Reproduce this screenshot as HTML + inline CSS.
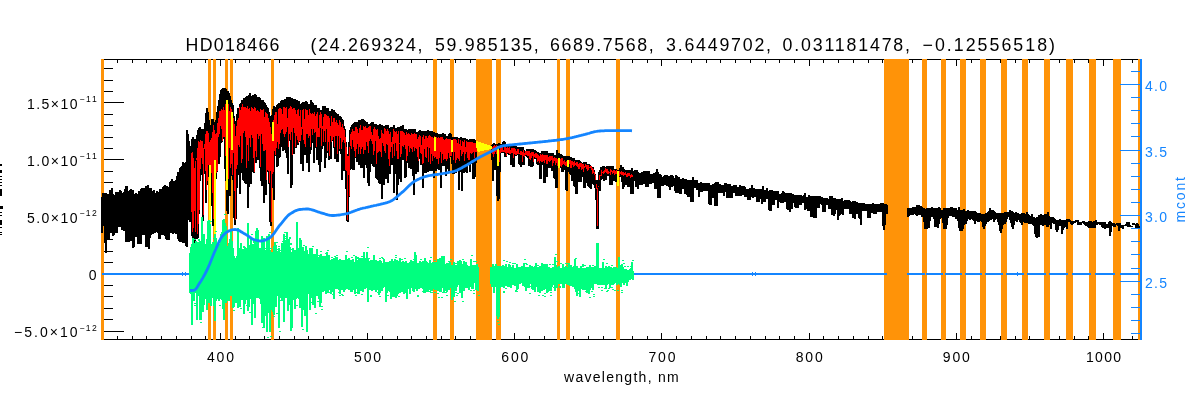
<!DOCTYPE html>
<html><head><meta charset="utf-8"><title>HD018466</title>
<style>
html,body{margin:0;padding:0;background:#fff;}
body{width:1200px;height:400px;overflow:hidden;font-family:"Liberation Sans",sans-serif;}
svg{display:block;}
svg text{font-family:"Liberation Sans",sans-serif;}
</style></head><body>
<svg width="1200" height="400" viewBox="0 0 1200 400">
<defs><filter id="idf" x="0" y="0" width="1200" height="400" filterUnits="userSpaceOnUse" color-interpolation-filters="sRGB"><feOffset dx="0" dy="0"/></filter></defs>
<rect width="1200" height="400" fill="#fff"/>
<path d="M102 59.5H1142M102 339.5H1142M102.5 59V340M102.5 59v4M102.5 340v-4M117.5 59v4M117.5 340v-4M132.5 59v4M132.5 340v-4M146.5 59v4M146.5 340v-4M161.5 59v4M161.5 340v-4M176.5 59v4M176.5 340v-4M191.5 59v4M191.5 340v-4M205.5 59v4M205.5 340v-4M220.5 59v7M220.5 340v-7M235.5 59v4M235.5 340v-4M249.5 59v4M249.5 340v-4M264.5 59v4M264.5 340v-4M279.5 59v4M279.5 340v-4M294.5 59v4M294.5 340v-4M308.5 59v4M308.5 340v-4M323.5 59v4M323.5 340v-4M338.5 59v4M338.5 340v-4M352.5 59v4M352.5 340v-4M367.5 59v7M367.5 340v-7M382.5 59v4M382.5 340v-4M397.5 59v4M397.5 340v-4M411.5 59v4M411.5 340v-4M426.5 59v4M426.5 340v-4M441.5 59v4M441.5 340v-4M455.5 59v4M455.5 340v-4M470.5 59v4M470.5 340v-4M485.5 59v4M485.5 340v-4M500.5 59v4M500.5 340v-4M514.5 59v7M514.5 340v-7M529.5 59v4M529.5 340v-4M544.5 59v4M544.5 340v-4M558.5 59v4M558.5 340v-4M573.5 59v4M573.5 340v-4M588.5 59v4M588.5 340v-4M603.5 59v4M603.5 340v-4M617.5 59v4M617.5 340v-4M632.5 59v4M632.5 340v-4M647.5 59v4M647.5 340v-4M661.5 59v7M661.5 340v-7M676.5 59v4M676.5 340v-4M691.5 59v4M691.5 340v-4M706.5 59v4M706.5 340v-4M720.5 59v4M720.5 340v-4M735.5 59v4M735.5 340v-4M750.5 59v4M750.5 340v-4M765.5 59v4M765.5 340v-4M779.5 59v4M779.5 340v-4M794.5 59v4M794.5 340v-4M809.5 59v7M809.5 340v-7M823.5 59v4M823.5 340v-4M838.5 59v4M838.5 340v-4M853.5 59v4M853.5 340v-4M868.5 59v4M868.5 340v-4M882.5 59v4M882.5 340v-4M897.5 59v4M897.5 340v-4M912.5 59v4M912.5 340v-4M926.5 59v4M926.5 340v-4M941.5 59v4M941.5 340v-4M956.5 59v7M956.5 340v-7M971.5 59v4M971.5 340v-4M985.5 59v4M985.5 340v-4M1000.5 59v4M1000.5 340v-4M1015.5 59v4M1015.5 340v-4M1029.5 59v4M1029.5 340v-4M1044.5 59v4M1044.5 340v-4M1059.5 59v4M1059.5 340v-4M1074.5 59v4M1074.5 340v-4M1088.5 59v4M1088.5 340v-4M1103.5 59v7M1103.5 340v-7M1118.5 59v4M1118.5 340v-4M1132.5 59v4M1132.5 340v-4M102 331.5h22M102 319.5h11M102 308.5h11M102 296.5h11M102 285.5h11M102 274.5h22M102 262.5h11M102 251.5h11M102 239.5h11M102 228.5h11M102 217.5h22M102 205.5h11M102 194.5h11M102 182.5h11M102 171.5h11M102 159.5h22M102 148.5h11M102 137.5h11M102 125.5h11M102 114.5h11M102 102.5h22M102 91.5h11M102 80.5h11M102 68.5h11" stroke="#000" stroke-width="1" fill="none" shape-rendering="crispEdges"/>
<path d="M101 59H104V340H101ZM208 59H211V340H208ZM213 59H216V340H213ZM225 59H228V340H225ZM230 59H233V340H230ZM271 59H274V340H271ZM433 59H437V340H433ZM450 59H454V340H450ZM476 59H492V340H476ZM496 59H501V340H496ZM557 59H560V340H557ZM566 59H570V340H566ZM616 59H620V340H616ZM884 59H909V340H884ZM922 59H927V340H922ZM941 59H946V340H941ZM960 59H966V340H960ZM980 59H986V340H980ZM1001 59H1007V340H1001ZM1022 59H1028V340H1022ZM1044 59H1050V340H1044ZM1066 59H1073V340H1066ZM1089 59H1096V340H1089ZM1113 59H1121V340H1113ZM1138 59H1140V340H1138Z" fill="#FF9308" shape-rendering="crispEdges"/>
<path d="M102 197V233M103 193V226M104 195V226M105 193V243M106 193V253M107 196V240M108 194V240M109 194V240M110 190V233M111 190V233M112 188V233M113 194V236M114 195V235M115 195V233M116 192V233M117 193V233M118 192V227M119 193V227M120 190V227M121 191V227M122 193V230M123 194V230M124 192V231M125 189V230M126 186V242M127 186V242M128 191V242M129 192V242M130 190V236M131 189V241M132 190V241M133 190V248M134 194V247M135 194V237M136 193V237M137 194V237M138 194V244M139 191V244M140 192V244M141 189V244M142 188V234M143 189V235M144 188V235M145 189V234M146 186V247M147 188V247M148 185V247M149 189V249M150 188V238M151 188V235M152 192V234M153 191V234M154 190V233M155 193V233M156 195V232M157 191V232M158 192V233M159 192V239M160 189V239M161 190V233M162 189V235M163 187V235M164 186V235M165 185V236M166 186V239M167 186V240M168 187V240M169 187V240M170 182V233M171 181V233M172 179V233M173 183V234M174 181V233M175 183V233M176 180V234M177 176V234M178 172V239M179 173V241M180 168V242M181 167V240M182 166V242M183 162V243M184 163V243M185 165V243M186 162V246M187 161V247" stroke="#000" stroke-width="2" fill="none" shape-rendering="crispEdges"/>
<path d="M187 130V220M188 134V220M189 141V166M190 146V222M191 146V217M192 139V236M193 137V240M194 139V219M195 141V243M196 139V165M197 135V239M198 130V238M199 128V214M200 127V181M201 129V165M202 129V175M203 130V221M204 129V163M205 123V174M206 113V203M207 108V185M208 112V173M209 120V177M210 125V220M211 125V183M212 119V206M213 119V226M214 122V194M215 125V168M216 120V179M217 112V172M218 106V151M219 100V164M220 94V157M221 90V143M222 89V142M223 88V138M224 89V139M225 88V169M226 89V181M227 91V211M228 91V214M229 93V149M230 96V196M231 100V173M232 103V176M233 105V180M234 116V218M235 126V225M236 121V219M237 114V188M238 108V174M239 108V175M240 104V194M241 103V172M242 100V173M243 101V180M244 98V181M245 99V183M246 97V184M247 96V175M248 97V208M249 95V187M250 93V148M251 96V184M252 96V139M253 95V172M254 95V173M255 94V162M256 95V163M257 97V160M258 97V160M259 97V142M260 98V168M261 100V181M262 101V186M263 100V182M264 102V203M265 103V192M266 105V195M267 107V171M268 108V172M269 112V184M270 116V222M271 123V226M272 115V175M273 109V188M274 106V200M275 107V156M276 109V149M277 105V167M278 104V166M279 103V158M280 103V157M281 101V147M282 100V130M283 101V151M284 100V150M285 99V135M286 99V153M287 97V158M288 97V174M289 98V141M290 97V141M291 98V188M292 98V185M293 99V154M294 99V154M295 99V148M296 101V148M297 100V145M298 103V145M299 101V142M300 104V142M301 104V164M302 103V160M303 102V171M304 103V145M305 102V155M306 101V155M307 102V163M308 104V149M309 104V172M310 106V154M311 100V150M312 102V136M313 103V143M314 107V163M315 105V148M316 105V148M317 109V160M318 108V160M319 108V165M320 111V172M321 110V162M322 112V149M323 106V143M324 108V146M325 106V168M326 108V158M327 109V153M328 108V143M329 112V160M330 111V143M331 112V159M332 109V141M333 111V138M334 110V148M335 112V159M336 113V137M337 116V162M338 114V162M339 117V150M340 116V151M341 117V154M342 119V180M343 120V167M344 126V171M345 129V171M346 142V189M347 155V221M348 154V222M349 142V197M350 130V170M351 127V169M352 125V167M353 124V170M354 123V170M355 122V158M356 123V158M357 122V162M358 123V162M359 120V165M360 120V165M361 120V168M362 119V168M363 119V166M364 120V178M365 121V164M366 122V165M367 122V168M368 124V183M369 124V186M370 124V172M371 123V163M372 122V164M373 122V166M374 124V167M375 124V160M376 124V178M377 125V179M378 125V180M379 126V183M380 124V184M381 125V175M382 125V199M383 126V184M384 126V185M385 126V179M386 125V179M387 125V168M388 125V183M389 128V174M390 128V174M391 127V157M392 127V165M393 128V164M394 125V193M395 128V165M396 128V174M397 128V200M398 127V185M399 127V179M400 127V179M401 126V182M402 126V158M403 125V160M404 129V159M405 129V178M406 129V177M407 130V163M408 130V162M409 129V168M410 130V167M411 129V169M412 129V163M413 129V176M414 129V195M415 129V174M416 132V174M417 133V158M418 132V172M419 131V156M420 130V159M421 131V165M422 131V165M423 131V188M424 131V164M425 131V173M426 131V173M427 132V172M428 130V172M429 131V171M430 131V171M431 132V171M432 131V171M433 132V161M434 132V178M435 133V171M436 133V171M437 133V169M438 134V169M439 134V170M440 134V170M441 134V188M442 135V162M443 133V166M444 134V166M445 134V160M446 136V176M447 136V169M448 136V169M449 134V172M450 133V157M451 134V157M452 137V164M453 137V174M454 138V174M455 137V173M456 137V173M457 137V171M458 138V171M459 138V190M460 138V172M461 137V166M462 138V191M463 138V173M464 139V173M465 138V172M466 140V172M467 139V173M468 140V163M469 140V161M470 139V172M471 139V164M472 139V162M473 139V179M474 139V179M475 140V177M476 141V163M492 145V160M493 144V181M494 143V164M495 144V170M496 144V170M497 144V196M498 144V201M499 143V199M500 144V172M501 144V153M502 145V153M503 142V153M504 141V153M505 142V157M506 145V157M507 145V154M508 145V154M509 146V155M510 146V155M511 146V165M512 145V165M513 146V167M514 145V167M515 147V156M516 146V156M517 147V155M518 147V155M519 147V164M520 148V165M521 147V167M522 147V163M523 147V165M524 150V165M525 151V156M526 151V156M527 149V157M528 149V158M529 149V166M530 149V166M531 150V167M532 149V167M533 149V166M534 150V159M535 150V159M536 151V159M537 152V164M538 152V165M539 153V164M540 153V179M541 153V179M542 151V165M543 151V165M544 151V183M545 151V183M546 151V177M547 151V177M548 154V168M549 153V168M550 153V167M551 153V168M552 153V171M553 153V171M554 155V178M555 155V179M556 155V188M557 150V188M558 154V168M559 153V168M560 154V168M561 154V168M562 155V172M563 156V172M564 156V170M565 156V170M566 157V190M567 156V191M568 156V171M569 156V172M570 158V174M571 157V175M572 158V181M573 158V181M574 158V186M575 161V187M576 160V194M577 162V194M578 160V182M579 160V182M580 161V182M581 162V182M582 163V176M583 163V177M584 162V188M585 162V188M586 162V183M587 164V183M588 164V186M589 164V187M590 165V188M591 167V189M592 167V183M593 167V184M594 170V185M595 174V188M596 180V200M597 185V229M598 180V229M599 172V187M600 170V191M601 167V180M602 167V179M603 166V179M604 166V181M605 167V180M606 167V180M607 166V176M608 166V176M609 166V176M610 166V185M611 166V185M612 167V185M613 166V181M614 169V181M615 169V181M616 169V182M617 170V182M618 171V182M619 170V177M620 168V177M621 165V177M622 169V182M623 167V189M624 169V187M625 170V185M626 170V185M627 171V185M628 170V187M629 170V187M630 170V187M631 171V194M632 168V194M633 171V194M634 171V181M635 170V181M636 171V187M637 170V185M638 172V189M639 173V185M640 173V185M641 173V185M642 172V185M643 172V183M644 171V184M645 171V184M646 172V187M647 171V187M648 172V187M649 171V184M650 174V184M651 174V184M652 175V183M653 174V183M654 173V183M655 173V189M656 172V189M657 169V189M658 172V198M659 174V198M660 174V198M661 175V185M662 177V186M663 177V186M664 176V185M665 175V185M666 175V185M667 175V186M668 176V186M669 177V187M670 176V190M671 175V187M672 175V187M673 176V186M674 178V186M675 178V191M676 175V193M677 176V193M678 177V193M679 177V193M680 179V194M681 179V194M682 179V189M683 178V189M684 179V189M685 179V194M686 179V194M687 180V195M688 180V197M689 180V197M690 180V189M691 180V202M692 180V202M693 177V202M694 180V188M695 180V188M696 180V188M697 180V190M698 183V190M699 183V197M700 183V191M701 182V192M702 183V192M703 183V190M704 183V191M705 183V191M706 183V191M707 183V191M708 183V191M709 183V204M710 185V205M711 185V205M712 185V198M713 184V198M714 184V198M715 183V206M716 182V206M717 183V206M718 182V193M719 184V193M720 184V193M721 185V193M722 185V193M723 185V193M724 185V196M725 183V192M726 183V192M727 184V198M728 184V198M729 184V198M730 184V197M731 186V198M732 186V198M733 186V193M734 185V193M735 185V193M736 185V196M737 187V196M738 188V196M739 187V196M740 185V196M741 186V196M742 186V195M743 186V195M744 186V195M745 187V197M746 189V197M747 189V197M748 189V200M749 189V200M750 188V200M751 189V197M752 185V197M753 188V198M754 188V196M755 189V197M756 189V197M757 190V202M758 189V202M759 189V202M760 189V199M761 189V199M762 189V204M763 186V202M764 190V202M765 190V202M766 191V198M767 188V199M768 191V199M769 191V210M770 190V211M771 190V211M772 190V204M773 191V205M774 192V205M775 191V200M776 191V200M777 191V200M778 191V208M779 194V202M780 194V202M781 194V203M782 193V203M783 191V203M784 192V201M785 193V202M786 193V202M787 193V209M788 193V210M789 194V210M790 193V212M791 193V209M792 194V209M793 194V203M794 195V203M795 195V207M796 195V208M797 195V208M798 195V208M799 195V204M800 196V205M801 195V205M802 196V203M803 196V203M804 195V203M805 193V210M806 197V209M807 197V205M808 198V211M809 195V211M810 196V211M811 196V217M812 196V217M813 196V217M814 196V218M815 196V218M816 196V218M817 196V208M818 196V208M819 196V208M820 196V204M821 197V204M822 197V205M823 198V212M824 198V212M825 198V212M826 198V205M827 198V205M828 199V205M829 199V209M830 196V209M831 196V209M832 196V215M833 198V215M834 199V216M835 198V214M836 199V209M837 199V210M838 199V220M839 200V216M840 199V215M841 200V214M842 198V214M843 201V215M844 202V208M845 200V209M846 201V209M847 200V209M848 200V209M849 200V209M850 201V214M851 202V214M852 203V214M853 201V218M854 202V218M855 201V219M856 202V214M857 202V214M858 203V214M859 203V218M860 203V219M861 203V225M862 203V211M863 203V211M864 203V211M865 204V211M866 205V211M867 204V211M868 204V218M869 204V218M870 204V218M871 204V213M872 204V213M873 203V213M874 204V214M875 204V214M876 204V214M877 205V212M878 204V212M879 204V212M880 204V212M881 203V212M882 203V212M883 203V226M884 204V230M885 204V225M886 204V214M887 205V214M908 208V217M909 208V216M910 208V215M911 208V215M912 208V215M913 207V215M914 207V214M915 207V213M916 207V215M917 205V216M918 205V215M919 205V215M920 206V214M921 206V215M922 207V217M923 208V217M924 208V222M925 209V229M926 210V229M927 208V229M928 208V228M929 208V228M930 208V221M931 210V216M932 207V217M933 208V217M934 208V219M935 208V227M936 208V224M937 209V227M938 208V228M939 207V224M940 208V219M941 210V218M942 211V218M943 210V223M944 208V229M945 209V229M946 208V229M947 208V225M948 209V218M949 208V216M950 208V216M951 207V215M952 207V216M953 209V217M954 208V217M955 208V217M956 208V219M957 210V219M958 210V221M959 207V228M960 210V231M961 210V231M962 210V231M963 211V229M964 209V225M965 211V224M966 211V224M967 211V221M968 210V219M969 211V219M970 211V220M971 212V219M972 211V219M973 212V220M974 211V221M975 211V224M976 212V220M977 213V221M978 213V222M979 213V222M980 213V221M981 214V221M982 214V222M983 214V227M984 215V229M985 214V226M986 213V224M987 213V222M988 212V222M989 211V221M990 208V220M991 211V220M992 210V218M993 210V219M994 211V222M995 212V220M996 213V219M997 213V219M998 213V222M999 213V225M1000 213V231M1001 214V233M1002 213V229M1003 213V225M1004 213V224M1005 212V224M1006 212V222M1007 213V219M1008 212V217M1009 212V217M1010 210V220M1011 211V223M1012 211V227M1013 212V229M1014 213V225M1015 213V221M1016 212V221M1017 213V222M1018 213V220M1019 214V220M1020 214V222M1021 215V223M1022 213V225M1023 213V221M1024 213V222M1025 214V223M1026 214V223M1027 212V223M1028 214V223M1029 215V224M1030 216V224M1031 216V224M1032 214V224M1033 218V225M1034 217V226M1035 218V234M1036 218V237M1037 217V238M1038 217V237M1039 215V237M1040 215V225M1041 214V225M1042 215V225M1043 215V226M1044 215V225M1045 214V224M1046 214V225M1047 214V227M1048 212V227M1049 216V225M1050 217V223M1051 217V229M1052 217V223M1053 217V223M1054 218V224M1055 219V224M1056 220V230M1057 220V232M1058 221V230M1059 220V226M1060 219V226M1061 220V226M1062 221V234M1063 220V230M1064 220V228M1065 220V225M1066 221V227M1067 219V229M1068 219V222M1069 219V222M1070 220V222M1071 221V224M1072 221V225M1073 221V224M1074 221V223M1075 222V223M1076 220V222M1077 220V222M1078 220V225M1079 222V225M1080 222V225M1081 222V225M1082 222V223M1083 221V223M1084 221V224M1085 222V225M1086 222V226M1087 222V226M1088 222V227M1089 221V228M1090 222V228M1091 221V228M1092 222V228M1093 222V228M1094 221V228M1095 221V228M1096 220V225M1097 223V225M1098 222V223M1099 222V224M1100 222V225M1101 222V225M1102 222V227M1103 222V228M1104 222V228M1105 222V229M1106 224V228M1107 224V228M1108 224V228M1109 222V227M1110 221V236M1111 222V232M1112 223V226M1113 223V226M1114 223V227M1115 224V227M1116 224V225M1117 223V225M1118 223V226M1119 223V231M1120 223V228M1121 225V228M1122 225V228M1123 225V229M1124 225V226M1125 225V226M1126 224V226M1127 222V226M1128 222V227M1129 222V227M1130 225V226M1131 226V227M1132 226V227M1133 223V225M1134 223V225M1135 224V225M1136 224V228M1137 223V228M1138 224V228M1139 226V229M1140 226V228" stroke="#000" stroke-width="2" fill="none" shape-rendering="crispEdges"/>
<path d="M191.5 153V212M192.5 152V232M193.5 158V228M194.5 168V211M195.5 161V232M196.5 158V160M197.5 148V234M198.5 141V224M199.5 142V210M200.5 140V169M201.5 141V158M202.5 141V164M203.5 148V215M204.5 144V149M205.5 134V171M206.5 131V190M207.5 131V181M208.5 133V165M209.5 142V166M210.5 140V215M211.5 138V173M212.5 132V193M213.5 125V219M214.5 130V187M215.5 134V164M216.5 133V173M217.5 123V171M218.5 118V137M219.5 111V134M220.5 111V126M221.5 109V129M222.5 110V141M223.5 107V137M224.5 110V137M225.5 104V156M226.5 103V180M227.5 106V160M228.5 104V179M229.5 111V148M230.5 107V168M231.5 109V164M232.5 115V175M233.5 118V153M234.5 124V191M235.5 136V220M236.5 126V169M237.5 120V165M238.5 118V145M239.5 107V147M240.5 110V136M241.5 107V163M242.5 104V159M243.5 107V133M244.5 107V131M245.5 107V137M246.5 108V168M247.5 106V145M248.5 109V161M249.5 108V138M250.5 111V147M251.5 107V135M252.5 108V138M253.5 109V158M254.5 107V172M255.5 108V151M256.5 111V157M257.5 110V134M258.5 111V139M259.5 112V136M260.5 109V167M261.5 110V134M262.5 110V144M263.5 109V151M264.5 117V151M265.5 112V150M266.5 113V180M267.5 114V170M268.5 118V171M269.5 122V183M270.5 127V171M271.5 134V222M272.5 125V174M273.5 120V172M274.5 115V151M275.5 112V155M276.5 112V148M277.5 124V142M278.5 109V149M279.5 108V144M280.5 108V133M281.5 109V130M282.5 114V129M283.5 107V134M284.5 107V137M285.5 108V134M286.5 107V132M287.5 118V127M288.5 109V147M289.5 108V134M290.5 106V140M291.5 107V132M292.5 109V155M293.5 108V128M294.5 108V133M295.5 110V147M296.5 114V136M297.5 110V140M298.5 109V143M299.5 116V141M300.5 110V141M301.5 127V135M302.5 110V129M303.5 109V140M304.5 119V144M305.5 109V147M306.5 110V134M307.5 110V134M308.5 115V138M309.5 109V136M310.5 113V147M311.5 114V129M312.5 113V135M313.5 114V129M314.5 112V133M315.5 116V132M316.5 114V147M317.5 112V137M318.5 128V137M319.5 115V137M320.5 112V128M321.5 114V146M322.5 126V129M323.5 117V142M324.5 114V131M325.5 114V142M326.5 115V129M327.5 116V151M328.5 116V142M329.5 118V156M330.5 126V136M331.5 116V142M332.5 122V140M333.5 118V137M334.5 118V147M335.5 122V136M336.5 120V136M337.5 123V154M338.5 125V136M339.5 120V149M340.5 122V138M341.5 127V149M342.5 124V142M343.5 128V140M344.5 130V143M345.5 137V170M346.5 147V171M347.5 156V220M348.5 156V175M349.5 147V196M350.5 134V146M351.5 132V149M352.5 129V140M353.5 131V147M354.5 131V151M355.5 127V157M356.5 127V149M357.5 129V144M358.5 133V154M359.5 128V147M360.5 125V154M361.5 130V149M362.5 130V147M363.5 126V154M364.5 127V150M365.5 126V150M366.5 128V142M367.5 128V146M368.5 127V153M369.5 126V141M370.5 126V139M371.5 132V141M372.5 135V144M373.5 129V155M374.5 127V151M375.5 129V141M376.5 130V164M377.5 129V153M378.5 136V152M379.5 139V151M380.5 138V152M381.5 130V157M382.5 133V143M383.5 134V146M384.5 128V151M385.5 129V153M386.5 131V144M387.5 129V145M388.5 131V159M389.5 134V166M390.5 132V152M391.5 142V147M392.5 137V158M393.5 129V144M394.5 131V156M395.5 132V143M396.5 131V151M397.5 134V159M398.5 131V159M399.5 143V144M400.5 131V157M401.5 131V154M402.5 131V146M403.5 132V147M404.5 133V145M405.5 135V149M406.5 132V161M407.5 134V156M408.5 133V146M409.5 134V152M410.5 135V148M411.5 133V149M412.5 134V152M413.5 134V147M414.5 133V151M415.5 134V148M416.5 134V149M417.5 139V157M418.5 137V161M419.5 135V147M420.5 136V153M421.5 145V154M422.5 137V164M423.5 135V163M424.5 139V149M425.5 136V157M426.5 136V158M427.5 138V147M428.5 136V162M429.5 135V148M430.5 136V164M431.5 137V154M432.5 137V161M433.5 138V156M434.5 136V158M435.5 137V157M436.5 137V159M437.5 138V159M438.5 137V164M439.5 138V158M440.5 137V152M441.5 137V163M442.5 137V154M443.5 139V160M444.5 140V159M445.5 139V159M446.5 138V161M447.5 139V159M448.5 139V153M449.5 139V158M450.5 139V156M451.5 140V156M452.5 141V152M453.5 139V160M454.5 139V152M455.5 139V163M456.5 140V160M457.5 143V158M458.5 139V159M459.5 144V161M460.5 140V150M461.5 146V156M462.5 141V154M463.5 142V152M464.5 140V161M465.5 147V154M466.5 141V152M467.5 142V158M468.5 142V160M469.5 142V160M470.5 142V153M471.5 142V154M472.5 142V153M473.5 143V152M474.5 143V158M475.5 143V152M476.5 143V152M492.5 147V154M493.5 146V157M494.5 145V154M495.5 146V152M496.5 145V154M497.5 146V155M498.5 148V155M499.5 150V162M500.5 146V153M501.5 146V152M502.5 147V152M503.5 150V152M504.5 146V152M505.5 147V153M506.5 148V156M507.5 147V153M508.5 148V153M509.5 147V154M510.5 150V154M511.5 148V153M512.5 148V153M513.5 148V158M514.5 148V154M515.5 149V155M516.5 151V155M517.5 149V154M518.5 149V154M519.5 153V154M520.5 151V155M521.5 151V155M522.5 152V162M523.5 150V156M524.5 153V157M525.5 151V155M526.5 151V155M527.5 151V156M528.5 151V156M529.5 151V159M530.5 153V160M531.5 152V158M532.5 152V156M533.5 152V162M534.5 154V157M535.5 153V158M536.5 153V158M537.5 154V162M538.5 155V161M539.5 156V163M540.5 154V161M541.5 155V162M542.5 154V162M543.5 155V161M544.5 155V163M545.5 155V160M546.5 155V164M547.5 155V164M548.5 157V161M549.5 156V162M550.5 156V161M551.5 156V160M552.5 156V166M553.5 158V163M554.5 157V161M555.5 158V165M556.5 158V163M557.5 159V166M558.5 161V165M559.5 158V164M560.5 159V166M561.5 158V167M562.5 158V165M563.5 161V164M564.5 160V165M565.5 162V166M566.5 161V166M567.5 163V167M568.5 160V163M569.5 160V164M570.5 160V168M571.5 161V168M572.5 161V165M573.5 162V167M574.5 161V166M575.5 163V165M576.5 162V166M577.5 162V167M578.5 164V169M579.5 163V169M580.5 163V167M581.5 163V170M582.5 164V169M583.5 164V172M584.5 166V168M585.5 164V167M586.5 165V169M587.5 165V171M588.5 165V170M589.5 167V168M590.5 166V168M591.5 166V170M592.5 168V174M593.5 169V173M594.5 172V175M595.5 175V180M596.5 184V189M597.5 188V226M598.5 186V187M599.5 175V180M600.5 175V176M601.5 170V176M602.5 172V173M603.5 171V174M604.5 170V173M605.5 168V172M606.5 169V173M607.5 169V174M608.5 171V174M609.5 172V173M610.5 169V175M611.5 170V172M612.5 171V174M613.5 170V173M614.5 170V175M615.5 171V174M616.5 170V174M617.5 171V176M618.5 173V175M619.5 171V176M620.5 172V174M621.5 171V175M622.5 172V175M623.5 172V176M624.5 173V175M625.5 172V175M626.5 174V177M627.5 173V177M628.5 173V176M629.5 173V176M630.5 175V178M631.5 174V177M632.5 175V177" stroke="#FF0000" stroke-width="1" fill="none" shape-rendering="crispEdges"/>
<path d="M209.5 165V250M214.5 160V250M226.5 100V190M231.5 112V150M272.7 122V141M434.5 137V151M452 140V152M498.3 146V166M558.5 158V168M567.5 160V167M618 171V186" stroke="#FFFF00" stroke-width="2" fill="none" shape-rendering="crispEdges"/>
<path d="M476 141L492 146L492 149L486 150L478 152L476 146Z" fill="#FFFF00" shape-rendering="crispEdges"/>
<path d="M102 274H190M633 274H887M907 274H924.5M926 274H943M945 274H962M965 274H982M985 274H1003M1006 274H1024M1027 274H1046M1049 274H1068M1072 274H1091M1095 274H1115M1120 274H1139" stroke="#1485FF" stroke-width="2" fill="none" shape-rendering="crispEdges"/>
<path d="M182.5 272v4M185.5 272v4M752.5 272v4M755.5 272v4M1017.5 272v4" stroke="#1485FF" stroke-width="1" fill="none" shape-rendering="crispEdges"/>
<path d="M190 253V293M191 247V294M192 244V325M193 238V298M194 243V301M195 251V293M196 241V293M197 250V320M198 242V295M199 249V296M200 241V320M201 251V320M202 217V311M203 251V312M204 234V305M205 246V299M206 244V296M207 239V310M208 221V301M209 220V303M210 224V300M211 244V306M212 249V295M213 242V298M214 248V306M215 234V321M216 238V301M217 251V299M218 243V295M219 246V301M220 244V294M221 234V299M222 232V300M223 220V309M224 219V320M225 223V293M226 226V303M227 246V301M228 246V300M229 243V301M230 239V295M231 230V296M232 241V295M233 248V308M234 256V307M235 258V295M236 258V303M237 256V296M238 228V308M239 248V298M240 249V307M241 243V296M242 251V300M243 249V295M244 252V314M245 247V304M246 248V300M247 248V297M248 223V311M249 245V307M250 250V299M251 238V298M252 250V325M253 244V297M254 247V304M255 241V318M256 231V296M257 228V298M258 230V298M259 252V295M260 248V298M261 252V304M262 236V323M263 247V303M264 238V328M265 250V316M266 252V297M267 236V332M268 237V299M269 234V313M270 250V332M271 254V310M272 252V298M273 252V312M274 246V315M275 243V299M276 245V307M277 251V296M278 251V296M279 248V328M280 252V298M281 252V296M282 243V301M283 244V300M284 234V322M285 240V296M286 250V298M287 232V296M288 250V311M289 239V305M290 247V304M291 252V331M292 252V328M293 248V298M294 250V300M295 250V309M296 252V299M297 222V298M298 248V297M299 252V299M300 238V308M301 240V300M302 254V327M303 247V306M304 253V310M305 251V315M306 246V300M307 250V332M308 254V293M309 254V294M310 248V310M311 254V296M312 248V298M313 255V304M314 254V292M315 256V308M316 254V294M317 249V296M318 258V291M319 257V299M320 255V307M321 255V303M322 259V289M323 256V292M324 256V289M325 256V291M326 260V294M327 252V290M328 260V293M329 255V287M330 260V290M331 261V294M332 259V292M333 260V288M334 258V299M335 261V287M336 257V289M337 257V289M338 260V289M339 260V290M340 259V294M341 261V289M342 260V290M343 260V287M344 261V292M345 260V290M346 255V287M347 259V288M348 260V287M349 258V290M350 261V290M351 260V292M352 260V292M353 259V289M354 262V290M355 262V294M356 256V288M357 261V289M358 260V294M359 258V294M360 258V291M361 260V291M362 258V289M363 262V292M364 252V289M365 258V289M366 261V287M367 252V288M368 259V302M369 261V290M370 262V290M371 260V288M372 261V291M373 262V289M374 255V290M375 261V288M376 260V292M377 262V290M378 261V287M379 262V295M380 260V293M381 261V287M382 263V291M383 263V288M384 259V287M385 263V287M386 262V302M387 262V293M388 262V290M389 263V291M390 261V292M391 262V299M392 260V297M393 261V296M394 263V297M395 259V296M396 262V298M397 260V296M398 261V294M399 261V291M400 258V293M401 262V288M402 262V292M403 263V287M404 262V294M405 262V287M406 261V293M407 263V299M408 263V288M409 263V289M410 262V293M411 260V287M412 263V288M413 261V291M414 263V292M415 252V288M416 255V289M417 263V291M418 263V289M419 263V289M420 261V287M421 262V288M422 262V286M423 261V289M424 263V293M425 258V293M426 261V292M427 262V290M428 263V292M429 264V287M430 260V290M431 264V291M432 263V291M433 262V289M434 262V289M435 262V290M436 262V290M437 262V288M438 259V291M439 263V291M440 258V292M441 262V292M442 256V288M443 263V288M444 256V293M445 264V289M446 264V291M447 263V292M448 263V289M449 263V290M450 262V287M451 265V288M452 265V300M453 265V288M454 263V297M455 265V287M456 265V291M457 265V287M458 261V285M459 264V284M460 260V293M461 261V290M462 264V298M463 265V288M464 261V291M465 264V286M466 262V288M467 265V287M468 266V288M469 266V290M470 266V287M471 259V285M472 266V289M473 265V289M474 266V283M475 265V283M476 266V290M477 264V285M478 267V290M491 267V284M492 267V287M493 264V286M494 266V293M495 267V284M496 265V287M497 267V316M498 266V319M499 266V317M500 266V288M501 268V284M502 266V287M503 265V286M504 267V288M505 266V284M506 264V286M507 267V286M508 267V287M509 266V284M510 265V287M511 267V288M512 267V285M513 265V283M514 268V285M515 268V286M516 268V285M517 264V290M518 267V289M519 267V283M520 267V284M521 267V283M522 266V283M523 268V286M524 263V284M525 267V287M526 267V291M527 268V287M528 267V288M529 268V288M530 266V283M531 268V284M532 268V289M533 267V290M534 268V288M535 266V292M536 264V287M537 267V287M538 268V292M539 267V289M540 266V293M541 267V289M542 263V291M543 267V286M544 264V290M545 267V289M546 264V288M547 264V293M548 267V292M549 267V287M550 268V291M551 268V291M552 268V287M553 267V285M554 267V284M555 257V291M556 265V284M557 268V288M558 267V284M559 266V282M560 268V283M561 268V282M562 268V284M563 264V288M564 267V288M565 268V283M566 266V284M567 267V283M568 268V285M569 263V284M570 268V286M571 265V286M572 268V285M573 267V287M574 266V286M575 259V289M576 268V292M577 266V295M578 268V291M579 268V287M580 268V297M581 267V289M582 268V287M583 268V290M584 268V290M585 268V288M586 268V290M587 267V293M588 267V289M589 268V294M590 265V290M591 268V288M592 267V288M593 268V290M594 267V284M595 266V283M596 268V284M597 243V282M598 243V285M599 268V285M600 268V283M601 268V285M602 268V284M603 262V285M604 268V284M605 269V285M606 266V289M607 267V285M608 268V283M609 267V284M610 268V288M611 267V283M612 268V285M613 268V285M614 267V284M615 267V283M616 267V283M617 269V285M618 268V284M619 257V284M620 265V285M621 268V287M622 264V282M623 267V283M624 269V285M625 269V283M626 269V280M627 270V286M628 270V282M629 270V277M630 269V280M631 268V277M632 262V279M633 271V280" stroke="#00FF7F" stroke-width="2" fill="none" shape-rendering="crispEdges"/>
<path d="M381 257h2M549 264h2M244 249h2M461 293h2M463 261h2M544 293h2M621 292h2M276 242h2M312 304h2M565 266h2M450 259h2M596 263h2M279 331h2M597 284h2M612 289h2M213 238h2M273 249h2M430 292h2M346 251h2M259 298h2M267 337h2M498 324h2M565 263h2M366 257h2M503 292h2M448 261h2M534 290h2M240 308h2M338 292h2M277 249h2M309 298h2M270 336h2M422 291h2M280 300h2M318 294h2M273 316h2M530 286h2M446 295h2M473 261h2M552 264h2M601 287h2M505 285h2M273 316h2M339 259h2M215 231h2M524 259h2M456 295h2M419 262h2M512 263h2M423 292h2M332 294h2M302 250h2M206 299h2M409 293h2M417 295h2M526 264h2M274 242h2M430 257h2M457 293h2M630 266h2M303 245h2M253 241h2M265 248h2M355 295h2M367 247h2M627 266h2M585 291h2M321 309h2M611 287h2M603 259h2M582 266h2M253 240h2M525 263h2M357 257h2M357 258h2M198 239h2M194 305h2M191 299h2M471 255h2M303 309h2M239 300h2M417 296h2M550 292h2M232 300h2M559 287h2M455 292h2M339 295h2M353 255h2M592 265h2M318 255h2M550 295h2M253 242h2M535 263h2M311 302h2M477 290h2M379 296h2M291 249h2M241 298h2M302 252h2M290 244h2M529 265h2M531 267h2M289 237h2M233 310h2M356 292h2M515 290h2M593 294h2M350 260h2M413 259h2M475 261h2M261 251h2M303 308h2M503 260h2M537 265h2M531 266h2M470 290h2M611 265h2M621 290h2M576 295h2M617 290h2M559 283h2M398 296h2M478 295h2M370 295h2M543 288h2M556 261h2M243 247h2M544 296h2M555 254h2M269 232h2M331 257h2M534 266h2M475 287h2M495 264h2M272 301h2M395 257h2M453 262h2M210 221h2M622 260h2M341 294h2M325 253h2M553 287h2M568 263h2M385 291h2M194 303h2M253 302h2M559 286h2M320 254h2M250 245h2M263 305h2M290 243h2M259 251h2M582 265h2M401 259h2M462 259h2M624 266h2M455 263h2M506 261h2M473 290h2M352 259h2M404 258h2M584 265h2M513 263h2M580 266h2M429 291h2M568 263h2M320 251h2M391 259h2M601 290h2M289 238h2M282 241h2M276 313h2M218 240h2M589 297h2M199 245h2M554 264h2M508 265h2M243 246h2M560 263h2M377 261h2M194 239h2M614 290h2M473 293h2M598 287h2M302 329h2M296 305h2M623 263h2M363 257h2M608 288h2M383 259h2M342 295h2M270 248h2M262 327h2M317 301h2M598 287h2M285 236h2M604 288h2M284 232h2M570 265h2M424 261h2M606 291h2M431 292h2M351 257h2M301 302h2M606 263h2M372 260h2M278 246h2M396 260h2M382 258h2M315 313h2M462 301h2M470 263h2M200 322h2M336 255h2M632 260h2M503 291h2M206 300h2M514 263h2M198 240h2M327 250h2M434 292h2M537 288h2M379 258h2M608 266h2M370 296h2M545 266h2M534 290h2M387 295h2M304 315h2M329 292h2M368 258h2M588 292h2M607 290h2M328 256h2M287 299h2M459 290h2M249 312h2M475 289h2M505 288h2M477 287h2M441 297h2M361 294h2M219 305h2M196 296h2M591 291h2M334 256h2M420 259h2M554 287h2M593 296h2M251 301h2M567 265h2M438 297h2M542 295h2M229 241h2M566 263h2M575 258h2M538 295h2M241 298h2M221 232h2M434 260h2M321 306h2M285 238h2M361 256h2M251 234h2M402 261h2M454 301h2M259 248h2M306 303h2M437 293h2M463 262h2M497 321h2M578 293h2M515 291h2M280 250h2M403 290h2M312 246h2M516 291h2M377 292h2M387 295h2M611 284h2M346 288h2M445 292h2M529 293h2M508 264h2M582 264h2M229 240h2M224 214h2M246 305h2M442 292h2M395 255h2M509 262h2" stroke="#00FF7F" stroke-width="1" fill="none" shape-rendering="crispEdges"/>
<polyline points="190,290.5 191,290.5 192,290.4 193,290.4 194,290.3 195,289.9 196,288.9 197,287.5 198,285.8 199,284.1 200,282.5 201,281.0 202,279.3 203,277.6 204,275.8 205,274.0 206,272.0 207,270.0 208,267.9 209,265.7 210,263.3 211,260.8 212,258.2 213,255.7 214,253.3 215,251.0 216,248.8 217,246.4 218,244.1 219,241.9 220,239.9 221,238.1 222,236.6 223,235.5 224,234.5 225,233.5 226,232.7 227,232.0 228,231.4 229,230.9 230,230.5 231,230.2 232,229.9 233,229.7 234,229.6 235,229.5 236,229.6 237,229.8 238,230.1 239,230.6 240,231.1 241,231.7 242,232.3 243,232.9 244,233.5 245,234.0 246,234.6 247,235.2 248,235.9 249,236.6 250,237.3 251,238.0 252,238.7 253,239.2 254,239.7 255,240.0 256,240.2 257,240.5 258,240.7 259,240.9 260,241.0 261,241.0 262,240.9 263,240.8 264,240.5 265,240.1 266,239.7 267,239.2 268,238.7 269,238.1 270,237.5 271,236.8 272,235.8 273,234.7 274,233.4 275,232.0 276,230.5 277,229.0 278,227.6 279,226.2 280,225.0 281,223.8 282,222.6 283,221.3 284,220.1 285,218.8 286,217.7 287,216.6 288,215.6 289,214.7 290,214.0 291,213.4 292,212.8 293,212.2 294,211.6 295,211.1 296,210.6 297,210.2 298,209.9 299,209.7 300,209.5 301,209.4 302,209.3 303,209.2 304,209.1 305,209.1 306,209.0 307,209.0 308,209.0 309,209.1 310,209.3 311,209.5 312,209.8 313,210.1 314,210.4 315,210.8 316,211.2 317,211.5 318,211.9 319,212.2 320,212.5 321,212.8 322,213.1 323,213.4 324,213.7 325,214.0 326,214.3 327,214.6 328,214.9 329,215.1 330,215.3 331,215.4 332,215.5 333,215.5 334,215.5 335,215.4 336,215.3 337,215.2 338,215.1 339,215.0 340,214.8 341,214.7 342,214.5 343,214.3 344,214.2 345,214.0 346,213.8 347,213.6 348,213.3 349,213.0 350,212.6 351,212.3 352,211.9 353,211.5 354,211.1 355,210.7 356,210.3 357,210.0 358,209.6 359,209.3 360,209.0 361,208.7 362,208.5 363,208.2 364,208.0 365,207.8 366,207.5 367,207.3 368,207.1 369,206.9 370,206.7 371,206.4 372,206.2 373,206.0 374,205.7 375,205.5 376,205.3 377,205.0 378,204.8 379,204.6 380,204.4 381,204.1 382,203.9 383,203.7 384,203.4 385,203.2 386,202.9 387,202.6 388,202.2 389,201.9 390,201.5 391,201.0 392,200.5 393,199.9 394,199.2 395,198.4 396,197.6 397,196.8 398,195.9 399,195.0 400,194.1 401,193.3 402,192.4 403,191.6 404,190.7 405,189.8 406,188.8 407,187.8 408,186.8 409,185.8 410,184.9 411,184.0 412,183.1 413,182.3 414,181.6 415,181.0 416,180.5 417,179.9 418,179.4 419,179.0 420,178.5 421,178.1 422,177.7 423,177.3 424,177.0 425,176.7 426,176.4 427,176.1 428,175.9 429,175.7 430,175.5 431,175.3 432,175.2 433,175.0 434,174.9 435,174.7 436,174.6 437,174.5 438,174.3 439,174.2 440,174.0 441,173.8 442,173.7 443,173.5 444,173.3 445,173.2 446,173.0 447,172.8 448,172.6 449,172.4 450,172.2 451,172.0 452,171.8 453,171.5 454,171.3 455,171.0 456,170.7 457,170.3 458,169.8 459,169.3 460,168.8 461,168.3 462,167.7 463,167.1 464,166.6 465,166.0 466,165.4 467,164.9 468,164.3 469,163.7 470,163.1 471,162.4 472,161.8 473,161.2 474,160.6 475,160.0 476,159.4 477,158.8 478,158.2 479,157.7 480,157.1 481,156.6 482,156.1 483,155.5 484,155.0 485,154.5 486,154.0 487,153.5 488,153.0 489,152.5 490,152.0 491,151.5 492,150.9 493,150.4 494,149.8 495,149.2 496,148.7 497,148.1 498,147.6 499,147.1 500,146.7 501,146.4 502,146.1 503,145.9 504,145.7 505,145.6 506,145.4 507,145.3 508,145.2 509,145.1 510,145.0 511,144.9 512,144.8 513,144.7 514,144.6 515,144.5 516,144.4 517,144.3 518,144.2 519,144.1 520,144.0 521,143.9 522,143.8 523,143.7 524,143.6 525,143.5 526,143.4 527,143.3 528,143.2 529,143.1 530,143.0 531,142.9 532,142.8 533,142.7 534,142.6 535,142.5 536,142.4 537,142.3 538,142.2 539,142.1 540,142.0 541,141.9 542,141.8 543,141.7 544,141.6 545,141.5 546,141.4 547,141.3 548,141.2 549,141.0 550,140.9 551,140.8 552,140.7 553,140.6 554,140.5 555,140.4 556,140.3 557,140.1 558,140.0 559,139.9 560,139.7 561,139.6 562,139.5 563,139.3 564,139.2 565,139.0 566,138.8 567,138.6 568,138.5 569,138.2 570,138.0 571,137.8 572,137.6 573,137.3 574,137.1 575,136.8 576,136.6 577,136.3 578,136.1 579,135.8 580,135.6 581,135.4 582,135.1 583,134.9 584,134.6 585,134.4 586,134.1 587,133.8 588,133.5 589,133.3 590,133.0 591,132.7 592,132.4 593,132.2 594,131.9 595,131.7 596,131.5 597,131.3 598,131.2 599,131.1 600,131.0 601,130.9 602,130.9 603,130.8 604,130.8 605,130.7 606,130.7 607,130.6 608,130.6 609,130.6 610,130.6 611,130.6 612,130.6 613,130.6 614,130.6 615,130.6 616,130.6 617,130.6 618,130.6 619,130.6 620,130.6 621,130.6 622,130.6 623,130.6 624,130.6 625,130.6 626,130.7 627,130.7 628,130.7 629,130.7 630,130.7 631,130.7 632,130.8" stroke="#1485FF" stroke-width="2.8" fill="none"/>
<path d="M1141 333.5h-10.5M1141 320.5h-10.5M1141 307.5h-10.5M1141 294.5h-10.5M1141 281.5h-21M1141 268.5h-10.5M1141 254.5h-10.5M1141 241.5h-10.5M1141 228.5h-10.5M1141 215.5h-21M1141 202.5h-10.5M1141 189.5h-10.5M1141 176.5h-10.5M1141 163.5h-10.5M1141 150.5h-21M1141 136.5h-10.5M1141 123.5h-10.5M1141 110.5h-10.5M1141 97.5h-10.5M1141 84.5h-21M1141 71.5h-10.5" stroke="#1485FF" stroke-width="1" fill="none" shape-rendering="crispEdges"/>
<path d="M1141 59V340" stroke="#1485FF" stroke-width="2" fill="none" shape-rendering="crispEdges"/>
<path d="M0 164H2V166H0ZM0 169.5H2V173H0ZM0 175.5H2V177H0ZM0 178.5H2V180H0ZM0 181.5H2V183H0ZM0 184.5H2V186H0ZM0 189H2V195.5H0ZM0 206H3V208.5H0ZM0 211.5H2V212.5H0ZM0 214.5H2V216H0ZM0 220H2V225H0ZM0 226.5H2V228H0ZM0 231.5H2V232.5H0ZM0 234H2V235H0Z" fill="#000" shape-rendering="crispEdges"/>
<g filter="url(#idf)">
<text x="185.5" y="50.8" font-size="17.8" text-anchor="start" fill="#000" textLength="94.0" lengthAdjust="spacing">HD018466</text>
<text x="310.5" y="50.8" font-size="17.8" text-anchor="start" fill="#000" textLength="112.0" lengthAdjust="spacing">(24.269324,</text>
<text x="435" y="50.8" font-size="17.8" text-anchor="start" fill="#000" textLength="103.8" lengthAdjust="spacing">59.985135,</text>
<text x="550" y="50.8" font-size="17.8" text-anchor="start" fill="#000" textLength="103.8" lengthAdjust="spacing">6689.7568,</text>
<text x="666" y="50.8" font-size="17.8" text-anchor="start" fill="#000" textLength="105" lengthAdjust="spacing">3.6449702,</text>
<text x="782.5" y="50.8" font-size="17.8" text-anchor="start" fill="#000" textLength="127.5" lengthAdjust="spacing">0.031181478,</text>
<text x="922.5" y="50.8" font-size="17.8" text-anchor="start" fill="#000" textLength="132.5" lengthAdjust="spacing">&#8722;0.12556518)</text>
<text x="207.0" y="362" font-size="14" text-anchor="start" fill="#000" textLength="27" lengthAdjust="spacing">400</text>
<text x="354.1" y="362" font-size="14" text-anchor="start" fill="#000" textLength="27" lengthAdjust="spacing">500</text>
<text x="501.3" y="362" font-size="14" text-anchor="start" fill="#000" textLength="27" lengthAdjust="spacing">600</text>
<text x="648.5" y="362" font-size="14" text-anchor="start" fill="#000" textLength="27" lengthAdjust="spacing">700</text>
<text x="795.7" y="362" font-size="14" text-anchor="start" fill="#000" textLength="27" lengthAdjust="spacing">800</text>
<text x="942.8" y="362" font-size="14" text-anchor="start" fill="#000" textLength="27" lengthAdjust="spacing">900</text>
<text x="1086.0" y="362" font-size="14" text-anchor="start" fill="#000" textLength="35" lengthAdjust="spacing">1000</text>
<text x="564" y="381.5" font-size="14" text-anchor="start" fill="#000" textLength="114.7" lengthAdjust="spacing">wavelength, nm</text>
<text x="79.4" y="102.1" font-size="8.6" textLength="17.3" lengthAdjust="spacing">&#8722;11</text>
<text x="26.9" y="108.6" font-size="14" textLength="50.6" lengthAdjust="spacing">1.5&#215;10</text>
<text x="79.4" y="159.2" font-size="8.6" textLength="17.3" lengthAdjust="spacing">&#8722;11</text>
<text x="26.9" y="165.8" font-size="14" textLength="50.6" lengthAdjust="spacing">1.0&#215;10</text>
<text x="79.4" y="216.3" font-size="8.6" textLength="17.3" lengthAdjust="spacing">&#8722;12</text>
<text x="26.9" y="222.8" font-size="14" textLength="50.6" lengthAdjust="spacing">5.0&#215;10</text>
<text x="79.4" y="330.6" font-size="8.6" textLength="17.3" lengthAdjust="spacing">&#8722;12</text>
<text x="14.1" y="337.1" font-size="14" textLength="63.4" lengthAdjust="spacing">&#8722;5.0&#215;10</text>
<text x="88.8" y="280.0" font-size="14" text-anchor="start" fill="#000">0</text>
<text x="1145" y="90.9" font-size="14" text-anchor="start" fill="#1485FF" textLength="22" lengthAdjust="spacing">4.0</text>
<text x="1145" y="156.5" font-size="14" text-anchor="start" fill="#1485FF" textLength="22" lengthAdjust="spacing">3.5</text>
<text x="1145" y="222.0" font-size="14" text-anchor="start" fill="#1485FF" textLength="22" lengthAdjust="spacing">3.0</text>
<text x="1145" y="287.5" font-size="14" text-anchor="start" fill="#1485FF" textLength="22" lengthAdjust="spacing">2.5</text>
<text transform="translate(1185,222.5) rotate(-90)" font-size="14" fill="#1485FF" textLength="45.5" lengthAdjust="spacing">mcont</text>
</g>
</svg>
</body></html>
